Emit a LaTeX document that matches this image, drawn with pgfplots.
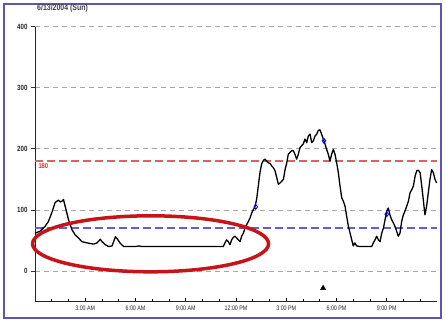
\documentclass[border=0pt]{standalone}
\usepackage{pgfplots}
\pgfplotsset{compat=1.18}
\usepackage{fontspec}
\setmainfont{Liberation Sans}
\newfontfamily\narrow[FakeStretch=0.82]{Liberation Sans}
\definecolor{framec}{RGB}{95,85,175}
\definecolor{refred}{RGB}{220,95,105}
\definecolor{labred}{RGB}{225,40,40}
\definecolor{refblue}{RGB}{95,95,215}
\definecolor{ellc}{RGB}{200,20,25}
\begin{document}
\begin{tikzpicture}[x=1pt,y=1pt]
\path[use as bounding box] (0,0) rectangle (446,323);
\fill[white] (0,0) rectangle (446,323);
\draw[framec, line width=1.5pt] (4,5) rectangle (441,319);
\node[anchor=west, text=black!75, font=\narrow\bfseries\fontsize{8.5}{9}\selectfont, inner sep=0pt] at (37,314.5) {6/13/2004 (Sun)};
\begin{axis}[at={(35pt,52pt)}, anchor=origin, scale only axis,
  width=402pt, height=275pt,
  xmin=0, xmax=24, ymin=-50, ymax=400,
  clip=false,
  axis lines=left,
  axis line style={-, line width=0.8pt, black!85},
  tick align=outside,
  major tick length=4pt, minor tick length=2.5pt,
  major x tick style={yshift=4pt, black, line width=0.6pt},
  minor x tick style={yshift=2.5pt, black, line width=0.6pt},
  ytick style={black!80, line width=0.6pt},
  ytick={0,100,200,300,400},
  yticklabels={0,100,200,300,400},
  xtick={3,6,9,12,15,18,21},
  xticklabels={3:00 AM,6:00 AM,9:00 AM,12:00 PM,3:00 PM,6:00 PM,9:00 PM},
  minor xtick={1,2,4,5,7,8,10,11,13,14,16,17,19,20,22,23},
  yticklabel style={font=\narrow\bfseries\fontsize{7.5}{8}\selectfont, text=black!85},
  xticklabel style={font=\narrow\fontsize{6.5}{7}\selectfont, text=black!85, yshift=3pt},
  ymajorgrids,
  major grid style={gray!70, line width=0.6pt, dash pattern=on 5pt off 4pt},
]
\addplot[refred, line width=1.5pt, dash pattern=on 8pt off 4pt] coordinates {(0,180)(24,180)};
\addplot[refblue, line width=1.5pt, dash pattern=on 8pt off 4pt] coordinates {(0,70)(24,70)};
\addplot[black, line width=1.3pt, line join=round, sharp plot] coordinates {
(0,62)(0.3,65)(0.6,73)(0.8,81)(1.0,95)(1.2,112)(1.4,116)(1.5,113)(1.6,114)(1.7,117)(1.8,106)(2.0,84)(2.2,68)(2.4,59)(2.6,54)(2.8,48)(3.1,46)(3.5,44)(3.7,46)(3.9,52)(4.0,48)(4.2,43)(4.4,40)(4.6,41)(4.8,56)(4.9,53)(5.1,45)(5.3,40)(6.0,40)(6.2,41)(6.4,40)(11.24,40)(11.34,46)(11.44,51)(11.54,48)(11.64,43)(11.74,51)(11.84,55)(11.94,57)(12.04,54)(12.14,51)(12.24,48)(12.34,57)(12.44,62)(12.54,70)(12.64,76)(12.74,81)(12.84,87)(12.94,95)(13.03,100)(13.13,105)(13.23,117)(13.33,139)(13.43,161)(13.53,175)(13.63,181)(13.73,183)(13.83,180)(13.93,177)(14.03,176)(14.13,172)(14.23,169)(14.33,164)(14.43,153)(14.53,142)(14.63,144)(14.73,147)(14.83,150)(14.93,166)(15.03,177)(15.12,191)(15.22,194)(15.32,197)(15.42,197)(15.52,191)(15.62,183)(15.72,191)(15.82,202)(15.92,205)(16.02,208)(16.12,216)(16.22,210)(16.32,221)(16.42,224)(16.52,210)(16.62,213)(16.72,221)(16.82,224)(16.91,230)(17.01,231)(17.11,224)(17.21,216)(17.31,208)(17.41,199)(17.51,191)(17.61,180)(17.71,191)(17.81,199)(17.91,191)(18.01,177)(18.11,161)(18.21,139)(18.31,120)(18.41,114)(18.51,106)(18.61,89)(18.71,73)(18.81,62)(18.91,51)(19.00,41)(19.10,46)(19.20,41)(19.40,40)(20.10,40)(20.20,46)(20.30,51)(20.40,57)(20.50,51)(20.60,48)(20.70,62)(20.80,70)(20.90,84)(21.00,98)(21.09,103)(21.19,92)(21.29,84)(21.39,79)(21.49,73)(21.59,65)(21.69,57)(21.79,62)(21.89,81)(21.99,92)(22.09,98)(22.19,106)(22.29,114)(22.39,128)(22.49,133)(22.59,139)(22.69,155)(22.79,164)(22.88,165)(22.99,161)(23.09,139)(23.18,117)(23.28,92)(23.38,106)(23.48,128)(23.58,150)(23.68,166)(23.78,161)(23.88,150)(23.98,144)
};
\addplot[only marks, mark=diamond, mark size=2.4pt, blue, line width=0.9pt] coordinates {(13.18,105)(17.25,213)(21.0,93)};
\addplot[only marks, mark=triangle*, mark size=3pt, black] coordinates {(17.2,-28)};
\node[anchor=north west, text=labred, font=\narrow\bfseries\fontsize{7}{7.5}\selectfont, inner sep=0pt] at (axis cs:0.2,176) {180};
\draw[ellc, line width=3.5pt] (axis cs:6.9,44.5) ellipse [x radius=118pt, y radius=28pt];
\end{axis}
\end{tikzpicture}
\end{document}
